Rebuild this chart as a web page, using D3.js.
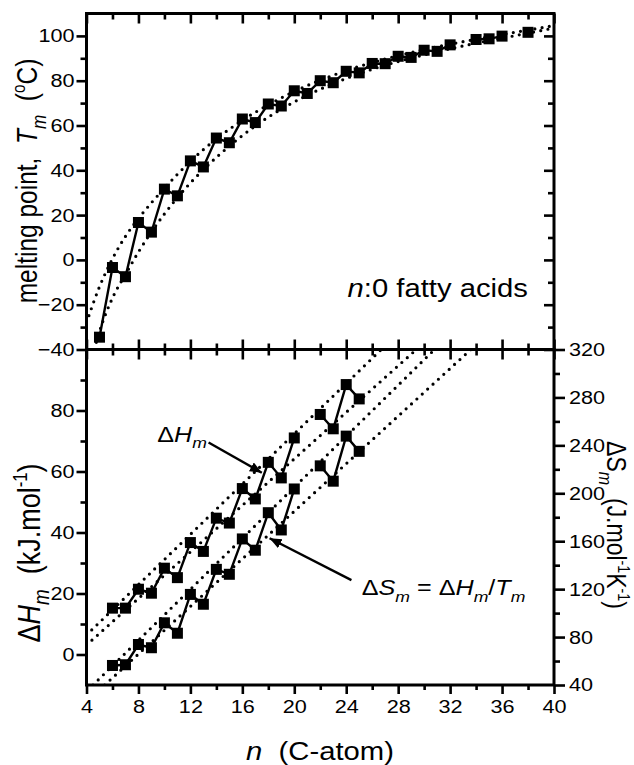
<!DOCTYPE html>
<html>
<head>
<meta charset="utf-8">
<script src="https://cdn.jsdelivr.net/npm/d3@7"></script>
<style>
body { margin: 0; background: #fff; }
svg { display: block; }
text { font-family: Arial, "Liberation Sans", sans-serif; fill: #000; }
</style>
</head>
<body>
<svg id="chart" width="634" height="765"></svg>
<script>
// melting points of the n:0 fatty acids (deg C)
var nTm = [5, 6, 7, 8, 9, 10, 11, 12, 13, 14, 15, 16, 17, 18, 19, 20, 21, 22, 23, 24,
  25, 26, 27, 28, 29, 30, 31, 32, 34, 35, 36, 38];
var tm = [-34.5, -3.4, -7.5, 16.7, 12.4, 31.6, 28.6, 44.2, 41.5, 54.4, 52.3, 62.9, 61.3,
  69.6, 68.7, 75.5, 74.3, 80.0, 79.1, 84.2, 83.5, 87.7, 87.6, 90.9, 90.4, 93.6, 93.1,
  96.0, 98.4, 98.7, 99.9, 101.6];

// enthalpy (kJ/mol) and entropy (J/mol/K) of fusion
var nH = [6, 7, 8, 9, 10, 11, 12, 13, 14, 15, 16, 17, 18, 19, 20, 22, 23, 24, 25];
var dH = [15.2, 15.2, 21.4, 20.1, 28.3, 25.2, 36.7, 33.8, 44.7, 43.1, 54.4, 51.0, 63.0,
  57.9, 71.0, 78.7, 74.0, 88.5, 83.8];
var dS = [56.3, 56.9, 73.8, 71.1, 91.9, 83.2, 115.6, 107.4, 136.5, 132.4, 161.9, 152.5,
  183.8, 169.4, 203.6, 222.9, 210.1, 247.7, 235.0];

// dotted guide curves
var tmEvenFit = [[4, -28], [5, -12], [6, 0.5], [7, 10.5], [8, 18.5], [9, 25.5], [10, 32],
  [12, 44], [14, 54], [16, 62.3], [18, 69.2], [20, 75.2], [22, 80.2], [24, 84.5],
  [26, 88.1], [28, 91.2], [30, 93.9], [32, 96.3], [34, 98.5], [36, 100.6], [38, 102.6], [40, 104.6]];
var tmOddFit = [[4.6, -40], [5, -32], [6, -17], [7, -6.5], [8, 3.5], [9, 12.5], [10, 20.5],
  [11, 27.8], [13, 40.3], [15, 50.8], [17, 59.8], [19, 67.3], [21, 73.5], [23, 78.7],
  [25, 83.1], [27, 86.9], [29, 90.1], [31, 92.9], [33, 95.5], [35, 97.9], [37, 100.1], [40, 103.5]];
var dHEvenFit = [[4, 6.4], [26.7, 100]];
var dHOddFit = [[4, 3.1], [29.4, 100]];
var dSEvenFit = [[4.5, 40], [30.8, 320]];
var dSOddFit = [[5.4, 40], [33.6, 320]];

// ticks
var xMajor = [4, 8, 12, 16, 20, 24, 28, 32, 36, 40];
var xMinor = [6, 10, 14, 18, 22, 26, 30, 34, 38];
var tmMajor = [-40, -20, 0, 20, 40, 60, 80, 100];
var tmMinor = [-30, -10, 10, 30, 50, 70, 90];
var dHMajor = [0, 20, 40, 60, 80];
var dHMinor = [10, 30, 50, 70, 90];
var dSMajor = [40, 80, 120, 160, 200, 240, 280, 320];
var dSMinor = [60, 100, 140, 180, 220, 260, 300];

var SX = 1.17; // the original figure is a little wider than tall
var svg = d3.select("#chart");

var left = 86.5, right = 554, top1 = 13.5, mid = 349.5, bot = 685;

var x = d3.scaleLinear().domain([4, 40]).range([left, right]);
var yT = d3.scaleLinear().domain([-40, 110]).range([mid, top1]);
var yH = d3.scaleLinear().domain([-10, 100]).range([bot, mid]);
var yS = d3.scaleLinear().domain([40, 320]).range([bot, mid]);

// clip regions
var defs = svg.append("defs");
defs.append("clipPath").attr("id", "clipTop").append("rect")
  .attr("x", left).attr("y", top1).attr("width", right - left).attr("height", mid - top1);
defs.append("clipPath").attr("id", "clipBot").append("rect")
  .attr("x", left).attr("y", mid).attr("width", right - left).attr("height", bot - mid);
defs.append("marker").attr("id", "arrow")
  .attr("markerUnits", "userSpaceOnUse")
  .attr("markerWidth", 14).attr("markerHeight", 12)
  .attr("refX", 12).attr("refY", 5).attr("orient", "auto")
  .append("path").attr("d", "M0,0 L12,5 L0,10 Z").attr("fill", "#000");

function runs(ns, vs) {
  var out = [], cur = [];
  ns.forEach(function (n, i) {
    if (i > 0 && n - ns[i - 1] !== 1) { out.push(cur); cur = []; }
    cur.push([n, vs[i]]);
  });
  out.push(cur);
  return out;
}

function dotted(g, data, ys, curve) {
  var line = d3.line().x(function (d) { return x(d[0]); }).y(function (d) { return ys(d[1]); });
  if (curve) line.curve(curve);
  g.append("path").datum(data)
    .attr("d", line)
    .attr("fill", "none").attr("stroke", "#000")
    .attr("stroke-width", 3.2).attr("stroke-linecap", "round")
    .attr("stroke-dasharray", "0 7.3");
}

function series(g, ns, vs, ys) {
  var line = d3.line().x(function (d) { return x(d[0]); }).y(function (d) { return ys(d[1]); });
  g.selectAll(null).data(runs(ns, vs)).enter().append("path")
    .attr("d", line).attr("fill", "none").attr("stroke", "#000").attr("stroke-width", 2.4);
  g.selectAll(null).data(ns).enter().append("rect")
    .attr("x", function (d) { return x(d) - 5.5; })
    .attr("y", function (d, i) { return ys(vs[i]) - 5.5; })
    .attr("width", 11).attr("height", 11).attr("fill", "#000");
}

// top panel
var gTop = svg.append("g").attr("clip-path", "url(#clipTop)");
dotted(gTop, tmEvenFit, yT, d3.curveMonotoneX);
dotted(gTop, tmOddFit, yT, d3.curveMonotoneX);
series(svg.append("g"), nTm, tm, yT);

// bottom panel
var gBot = svg.append("g").attr("clip-path", "url(#clipBot)");
dotted(gBot, dHEvenFit, yH);
dotted(gBot, dHOddFit, yH);
dotted(gBot, dSEvenFit, yS);
dotted(gBot, dSOddFit, yS);
series(svg.append("g"), nH, dH, yH);
series(svg.append("g"), nH, dS, yS);

// frames
[[top1, mid], [mid, bot]].forEach(function (p) {
  svg.append("rect").attr("x", left).attr("y", p[0])
    .attr("width", right - left).attr("height", p[1] - p[0])
    .attr("fill", "none").attr("stroke", "#000").attr("stroke-width", 3);
});

function drawAxis(axisFn, scale, tr, values, size, labels, pad) {
  var a = axisFn(scale).tickValues(values).tickSizeInner(size).tickSizeOuter(0)
    .tickPadding(pad || 3);
  if (!labels) a.tickFormat("");
  var g = svg.append("g").attr("transform", tr).call(a)
    .attr("font-family", null).attr("font-size", null);
  g.select(".domain").remove();
  g.selectAll(".tick line").attr("stroke", "#000").attr("stroke-width", 2.6);
  g.selectAll(".tick text").style("font-size", "18.5px").each(function () {
    var t = d3.select(this);
    var tx = +t.attr("x") || 0;
    t.attr("x", tx / SX).attr("transform", "scale(" + SX + ",1)");
  });
  return g;
}

var tB = "translate(0," + bot + ")", tM = "translate(0," + mid + ")", tT = "translate(0," + top1 + ")";
var tL = "translate(" + left + ",0)", tR = "translate(" + right + ",0)";

// x axes
drawAxis(d3.axisBottom, x, tB, xMajor, 9, true, 6);
drawAxis(d3.axisBottom, x, tB, xMinor, 5, false);
drawAxis(d3.axisTop, x, tM, xMajor, 10, false);
drawAxis(d3.axisTop, x, tM, xMinor, 6, false);
drawAxis(d3.axisBottom, x, tM, xMajor, 10, false);
drawAxis(d3.axisBottom, x, tM, xMinor, 6, false);
drawAxis(d3.axisTop, x, tT, xMajor, -10, false);
drawAxis(d3.axisTop, x, tT, xMinor, -6, false);

// top panel y axes
drawAxis(d3.axisLeft, yT, tL, tmMajor, 10, true, 2);
drawAxis(d3.axisLeft, yT, tL, tmMinor, 6, false);
drawAxis(d3.axisRight, yT, tR, tmMajor, -10, false);
drawAxis(d3.axisRight, yT, tR, tmMinor, -6, false);

// bottom panel y axes
drawAxis(d3.axisLeft, yH, tL, dHMajor, 10, true, 2);
drawAxis(d3.axisLeft, yH, tL, dHMinor, 6, false);
drawAxis(d3.axisRight, yS, tR, dSMajor, 11, true, 4);
drawAxis(d3.axisRight, yS, tR, dSMinor, 6, false);

// text helpers
function label(px, py, rot, size, anchor) {
  var g = svg.append("g").attr("transform",
    "translate(" + px + "," + py + ") scale(" + SX + ",1)" + (rot ? " rotate(" + rot + ")" : ""));
  return g.append("text").attr("text-anchor", anchor || "start").style("font-size", size + "px");
}

function rich(t, parts, size) {
  var shift = 0;
  parts.forEach(function (p) {
    var kind = p[1] || "";
    var s = t.append("tspan").text(p[0]);
    var target = 0;
    if (kind.indexOf("sub") >= 0) { s.style("font-size", (size * 0.7) + "px"); target = size * 0.3; }
    if (kind.indexOf("sup") >= 0) { s.style("font-size", (size * 0.62) + "px"); target = -size * 0.42; }
    if (kind.indexOf("it") >= 0) s.style("font-style", "italic");
    if (target - shift !== 0) s.attr("dy", target - shift);
    shift = target;
  });
}

var sp = "\u00a0\u00a0";

rich(label(37, 181, -90, 24.5, "middle"),
  [["melting point," + sp], ["T", "it"], ["m", "it sub"], [sp + "("], ["o", "sup"], ["C)"]], 24.5);

rich(label(40, 553, -90, 27, "middle"),
  [["\u0394"], ["H", "it"], ["m", "it sub"], [sp + "(kJ.mol"], ["-1", "sup"], [")"]], 27);

rich(label(607, 525, 90, 23, "middle"),
  [["\u0394S"], ["m", "it sub"], [sp + "(J.mol"], ["-1", "sup"], ["K"], ["-1", "sup"], [")"]], 23);

rich(label(320, 760, 0, 25, "middle"),
  [["n", "it"], [sp + "(C-atom)"]], 25);

rich(label(x(24.1), yT(-16.4), 0, 25),
  [["n", "it"], [":0 fatty acids"]], 25);

// annotations
rich(label(x(9.45), yH(69.8), 0, 21.5),
  [["\u0394"], ["H", "it"], ["m", "it sub"]], 21.5);
svg.append("line")
  .attr("x1", x(13.4)).attr("y1", yH(69.5)).attr("x2", x(17.5)).attr("y2", yH(59.6))
  .attr("stroke", "#000").attr("stroke-width", 2.4).attr("marker-end", "url(#arrow)");

rich(label(x(25.2), yS(115), 0, 21.5),
  [["\u0394"], ["S", "it"], ["m", "it sub"], ["\u00a0=\u00a0\u0394"], ["H", "it"], ["m", "it sub"],
   ["/"], ["T", "it"], ["m", "it sub"]], 21.5);
svg.append("line")
  .attr("x1", x(24.4)).attr("y1", yS(127.5)).attr("x2", x(18.1)).attr("y2", yS(162.5))
  .attr("stroke", "#000").attr("stroke-width", 2.4).attr("marker-end", "url(#arrow)");
</script>
</body>
</html>
